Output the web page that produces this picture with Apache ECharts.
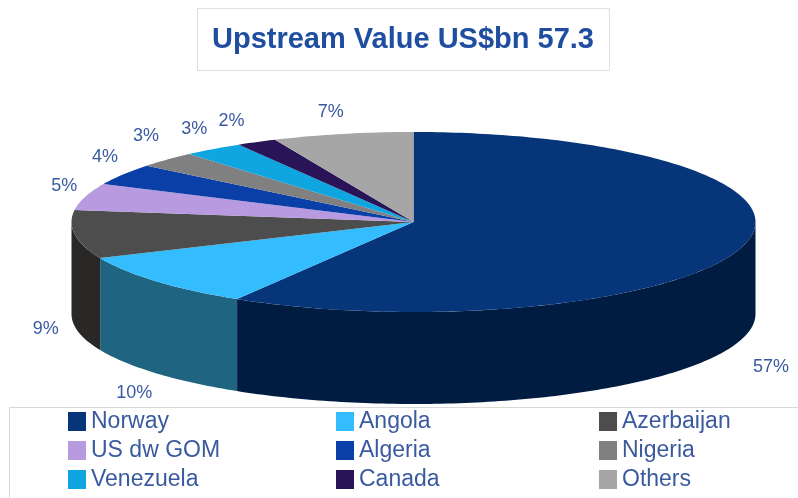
<!DOCTYPE html>
<html>
<head>
<meta charset="utf-8">
<script src="https://cdn.jsdelivr.net/npm/echarts@6/dist/echarts.min.js"></script>
<style>
html, body { margin: 0; padding: 0; background: #fff; }
#main { width: 798px; height: 498px; }
</style>
</head>
<body>
<div id="main"></div>
<script>
var categories = ['Norway', 'Angola', 'Azerbaijan', 'US dw GOM', 'Algeria', 'Nigeria', 'Venezuela', 'Canada', 'Others'];
var shares = [57, 10, 9, 5, 4, 3, 3, 2, 7];
var topColors = ['#06357a', '#33bdff', '#4d4d4d', '#b79ae0', '#0a3fa8', '#808080', '#0ea5e0', '#2a1458', '#a6a6a6'];
var wallColors = ['#001c41', '#1f6480', '#2a2826', '#6f5d88', '#062665', '#4d4d4d', '#086487', '#190c35', '#646464'];

// px offset of each percent label from its slice rim
var labelNudge = [[31, 26], [-22, 20], [-29, 3], [-21, -11], [-18, -17], [-21, -24], [-19, -20], [-25, -21], [-12, -22]];

var cx = 413.5, cy = 222, rx = 342, ry = 90, depth = 92;
var textColor = '#3a5aa0';
var font = '"Liberation Sans", Arial, sans-serif';

var total = shares.reduce(function (a, b) { return a + b; }, 0);

// the reference's slices sit a few degrees off true on the tilted disc
function tilt(deg) {
    return deg + 6 * Math.sin(deg / 2 * Math.PI / 180);
}

function rim(deg, drop) {
    var r = deg * Math.PI / 180;
    return [cx + rx * Math.sin(r), cy - ry * Math.cos(r) + (drop || 0)];
}

function arc(from, to, drop) {
    var pts = [];
    var n = Math.max(2, Math.ceil(Math.abs(to - from)));
    for (var i = 0; i <= n; i++) {
        pts.push(rim(from + (to - from) * i / n, drop));
    }
    return pts;
}

var cum = 0;
var angles = shares.map(function (v) {
    var start = cum;
    cum += v;
    return [start / total * 360, cum / total * 360];
});

function renderSlice(params, api) {
    var i = params.seriesIndex;
    var a0 = tilt(angles[i][0]), a1 = tilt(angles[i][1]);
    var mid = tilt((angles[i][0] + angles[i][1]) / 2);
    var children = [];

    // front wall, only the part between 3 and 9 o'clock shows
    var w0 = Math.max(a0, 90), w1 = Math.min(a1, 270);
    if (w1 > w0) {
        children.push({
            type: 'polygon',
            shape: { points: arc(w0, w1, 0).concat(arc(w1, w0, depth)) },
            style: { fill: wallColors[i] }
        });
    }

    children.push({
        type: 'polygon',
        shape: { points: [[cx, cy]].concat(arc(a0, a1, 0)) },
        style: { fill: topColors[i] }
    });

    var front = mid > 90 && mid < 270;
    var p = rim(mid, front ? depth : 0);
    children.push({
        type: 'text',
        x: p[0] + labelNudge[i][0],
        y: p[1] + labelNudge[i][1],
        style: {
            text: api.value(0) + '%',
            fill: textColor,
            font: '18px ' + font,
            align: 'center',
            verticalAlign: 'middle'
        }
    });

    return { type: 'group', children: children };
}

var series = categories.map(function (name, i) {
    return {
        type: 'custom',
        name: name,
        coordinateSystem: 'none',
        silent: true,
        itemStyle: { color: topColors[i] },
        renderItem: renderSlice,
        data: [[shares[i]]]
    };
});

function legendColumn(left, start) {
    return {
        orient: 'vertical',
        left: left,
        top: 405,
        height: 130,
        itemWidth: 18,
        itemHeight: 19,
        itemGap: 6,
        icon: 'rect',
        selectedMode: false,
        textStyle: { color: textColor, fontSize: 23, fontFamily: 'Liberation Sans' },
        data: [categories[start], categories[start + 3], categories[start + 6]]
    };
}

var chart = echarts.init(document.getElementById('main'));

chart.setOption({
    backgroundColor: '#fff',
    animation: false,
    title: {
        text: 'Upstream Value US$bn 57.3',
        left: 197,
        top: 8,
        padding: [17, 16, 17, 15],
        borderColor: '#dcdfe6',
        borderWidth: 1,
        textStyle: {
            color: '#1f4ea1',
            fontSize: 29,
            fontWeight: 'bold',
            fontFamily: 'Liberation Sans'
        }
    },
    legend: [legendColumn(63, 0), legendColumn(331, 1), legendColumn(594, 2)],
    graphic: [{
        type: 'rect',
        silent: true,
        shape: { x: 9.5, y: 407.5, width: 900, height: 200 },
        style: { fill: 'none', stroke: '#d8d8d8', lineWidth: 1 }
    }],
    series: series
});

window.onresize = chart.resize;
</script>
</body>
</html>
